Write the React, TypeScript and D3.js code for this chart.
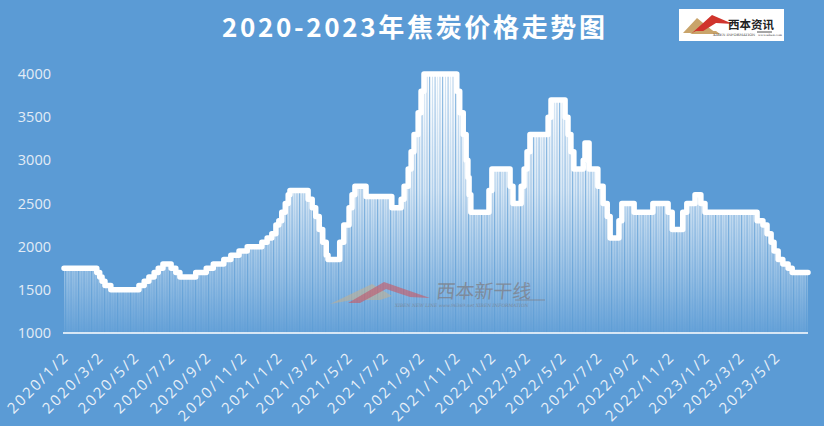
import React from "react";
import * as d3 from "d3";

// ---- data (price change points: date the new level takes effect) ----
const changeDates: string[] = [
  "2020-01-02","2020-02-27","2020-03-03","2020-03-07","2020-03-12","2020-03-22",
  "2020-05-09","2020-05-18","2020-05-26","2020-06-04","2020-06-11","2020-06-19",
  "2020-07-03","2020-07-11","2020-07-18","2020-08-14","2020-09-01","2020-09-13",
  "2020-10-01","2020-10-13","2020-10-27","2020-11-10","2020-12-05","2020-12-14",
  "2020-12-22","2020-12-29","2021-01-03","2021-01-08","2021-01-14","2021-01-19",
  "2021-01-22","2021-02-22","2021-03-01","2021-03-07","2021-03-13","2021-03-19",
  "2021-03-25","2021-03-28","2021-04-17","2021-04-24","2021-05-03","2021-05-08",
  "2021-05-13","2021-06-01","2021-07-15","2021-07-31","2021-08-05","2021-08-12",
  "2021-08-17","2021-08-22","2021-08-29","2021-09-03","2021-09-08","2021-11-03",
  "2021-11-08","2021-11-14","2021-11-19","2021-11-22","2021-11-24","2021-11-27",
  "2021-12-28","2022-01-02","2022-02-02","2022-02-07","2022-02-21","2022-02-26",
  "2022-03-03","2022-03-08","2022-04-08","2022-04-13","2022-05-07","2022-05-12",
  "2022-05-17","2022-05-22","2022-06-07","2022-06-10","2022-06-17","2022-07-02",
  "2022-07-11","2022-07-18","2022-07-23","2022-08-07","2022-08-12","2022-09-02",
  "2022-10-04","2022-10-30","2022-11-06","2022-11-24","2022-12-01","2022-12-15",
  "2022-12-25","2023-01-01","2023-03-31","2023-04-10","2023-04-17","2023-04-24",
  "2023-04-29","2023-05-06","2023-05-14","2023-05-23","2023-05-30","2023-06-26",
];
const prices: number[] = [
  1750,1700,1650,1600,1550,1500,
  1550,1600,1650,1700,1750,1800,
  1750,1700,1650,1700,1750,1800,
  1850,1900,1950,2000,2050,2100,
  2150,2250,2300,2400,2500,2600,
  2650,2550,2450,2350,2200,2050,
  1900,1850,2050,2250,2450,2600,
  2700,2580,2450,2550,2700,2900,
  3100,3300,3550,3800,4000,3800,
  3550,3300,3000,2800,2600,2400,
  2650,2900,2700,2500,2700,2900,
  3100,3300,3500,3700,3500,3300,
  3100,2900,3000,3200,2900,2700,
  2500,2350,2100,2300,2500,2400,
  2500,2400,2200,2400,2500,2600,
  2500,2400,2300,2250,2150,2050,
  1950,1850,1800,1750,1700,1700,
];
const yTicks: number[] = [1000, 1500, 2000, 2500, 3000, 3500, 4000];
const xTickLabels: string[] = [
  "2020/1/2","2020/3/2","2020/5/2","2020/7/2","2020/9/2","2020/11/2",
  "2021/1/2","2021/3/2","2021/5/2","2021/7/2","2021/9/2","2021/11/2",
  "2022/1/2","2022/3/2","2022/5/2","2022/7/2","2022/9/2","2022/11/2",
  "2023/1/2","2023/3/2","2023/5/2",
];
const title = "2020-2023年焦炭价格走势图";

const W = 824;
const H = 426;
const BG = "#5B9BD5";

export default function App() {
  const parse = d3.timeParse("%Y-%m-%d");
  const parseLabel = d3.timeParse("%Y/%m/%d");
  const data = changeDates.map((d, i) => ({ date: parse(d) as Date, v: prices[i] }));

  const x = d3
    .scaleTime()
    .domain([parse("2020-01-02") as Date, parse("2023-06-26") as Date])
    .range([64, 808]);
  const y = d3.scaleLinear().domain([1000, 4000]).range([333, 74]);

  const line = d3
    .line<{ date: Date; v: number }>()
    .x((d) => x(d.date))
    .y((d) => y(d.v))
    .curve(d3.curveStepAfter);
  const area = d3
    .area<{ date: Date; v: number }>()
    .x((d) => x(d.date))
    .y0(y(1000))
    .y1((d) => y(d.v))
    .curve(d3.curveStepAfter);

  const linePath = line(data) || "";
  const areaPath = area(data) || "";

  return (
    <svg width={W} height={H} style={{ display: "block", position: "absolute", left: 0, top: 0 }}>
      <defs>
        <linearGradient id="colGrad" gradientUnits="userSpaceOnUse" x1="0" y1={y(4000)} x2="0" y2={y(1000)}>
          <stop offset="0" stopColor="#ffffff" stopOpacity="1" />
          <stop offset="0.45" stopColor="#ffffff" stopOpacity="0.75" />
          <stop offset="0.8" stopColor="#ffffff" stopOpacity="0.33" />
          <stop offset="1" stopColor="#ffffff" stopOpacity="0.06" />
        </linearGradient>
        <pattern id="stripes" patternUnits="userSpaceOnUse" width="13" height="10">
          <rect x="0" y="0" width="1.2" height="10" fill={BG} opacity="0.65" />
          <rect x="3" y="0" width="0.8" height="10" fill={BG} opacity="0.35" />
          <rect x="5.5" y="0" width="1.2" height="10" fill={BG} opacity="0.5" />
          <rect x="8" y="0" width="0.6" height="10" fill={BG} opacity="0.3" />
          <rect x="10.5" y="0" width="1" height="10" fill={BG} opacity="0.45" />
        </pattern>
        <clipPath id="areaClip">
          <path d={areaPath} />
        </clipPath>
      </defs>

      <rect x={0} y={0} width={W} height={H} fill={BG} />

      {/* title */}
      <text
        x={222}
        y={37}
        textLength={383}
        lengthAdjust="spacing"
        fill="#ffffff"
        fontFamily="'Noto Sans CJK SC', sans-serif"
        fontWeight={700}
        fontSize={26}
      >
        {title}
      </text>

      {/* logo top right */}
      <g>
        <rect x={679} y={9} width={105} height={32} fill="#ffffff" />
        <polygon points="683,33 697,18 708,27 716,33" fill="#C9A46A" />
        <polygon points="692,33 712,15 733,24 716,23 700,33" fill="#D0342C" />
        <polygon points="690,34 720,34 716,31 696,31" fill="#C9A46A" />
        <text x={728} y={29} fontFamily="'Noto Sans CJK SC', sans-serif" fontWeight={700} fontSize={11.5} fill="#222">
          西本资讯
        </text>
        <line x1={757} y1={32} x2={772} y2={32} stroke="#222" strokeWidth={0.8} />
        <text x={713} y={36} fontFamily="'DejaVu Serif', serif" fontSize={3.6} fill="#333">
          XIBEN INFORMATION
        </text>
        <text x={758} y={36} fontFamily="'DejaVu Serif', serif" fontSize={3} fill="#333">
          www.xiben.com
        </text>
      </g>

      {/* columns: gradient area + stripes */}
      <path d={areaPath} fill="url(#colGrad)" />
      <g clipPath="url(#areaClip)">
        <rect x={60} y={60} width={760} height={280} fill="url(#stripes)" />
      </g>

      {/* watermark */}
      <g opacity={0.75}>
        <polygon points="330,304 372,284 392,296 380,300 352,300" fill="#C9B08A" opacity={0.7} />
        <polygon points="348,303 384,282 430,298 410,297 386,289 360,303" fill="#D0505A" opacity={0.75} />
        <text
          x={436}
          y={298}
          fontFamily="'Noto Sans CJK SC', sans-serif"
          fontSize={19}
          fill="#7E7E86"
          transform="skewX(-6) translate(31,0)"
        >
          西本新干线
        </text>
        <line x1={515} y1={300} x2={545} y2={300} stroke="#7E7E86" strokeWidth={1} />
        <text x={395} y={307} fontFamily="'DejaVu Serif', serif" fontStyle="italic" fontSize={4.5} fill="#7E7E86">
          XIBEN NEW LINE  www.96369.net  XIBEN INFORMATION
        </text>
      </g>

      {/* series line */}
      <path
        d={linePath}
        fill="none"
        stroke="#ffffff"
        strokeWidth={5.5}
        strokeLinejoin="round"
        strokeLinecap="round"
      />

      {/* x axis baseline */}
      <line x1={63} x2={808} y1={y(1000)} y2={y(1000)} stroke="#ffffff" strokeWidth={1.5} />

      {/* y axis labels */}
      {yTicks.map((t) => (
        <text
          key={t}
          x={51}
          y={y(t) + 5}
          textAnchor="end"
          fontFamily="'Open Sans', sans-serif"
          fontSize={14.5}
          fill="#E3ECF6"
        >
          {t}
        </text>
      ))}

      {/* x axis labels */}
      {xTickLabels.map((lab) => {
        const px = x(parseLabel(lab) as Date);
        return (
          <text
            key={lab}
            transform={`translate(${px + 6},${358}) rotate(-45)`}
            textAnchor="end"
            fontFamily="'Open Sans', sans-serif"
            fontSize={15}
            letterSpacing={2.2}
            fill="#E8F0F8"
          >
            {lab}
          </text>
        );
      })}
    </svg>
  );
}
